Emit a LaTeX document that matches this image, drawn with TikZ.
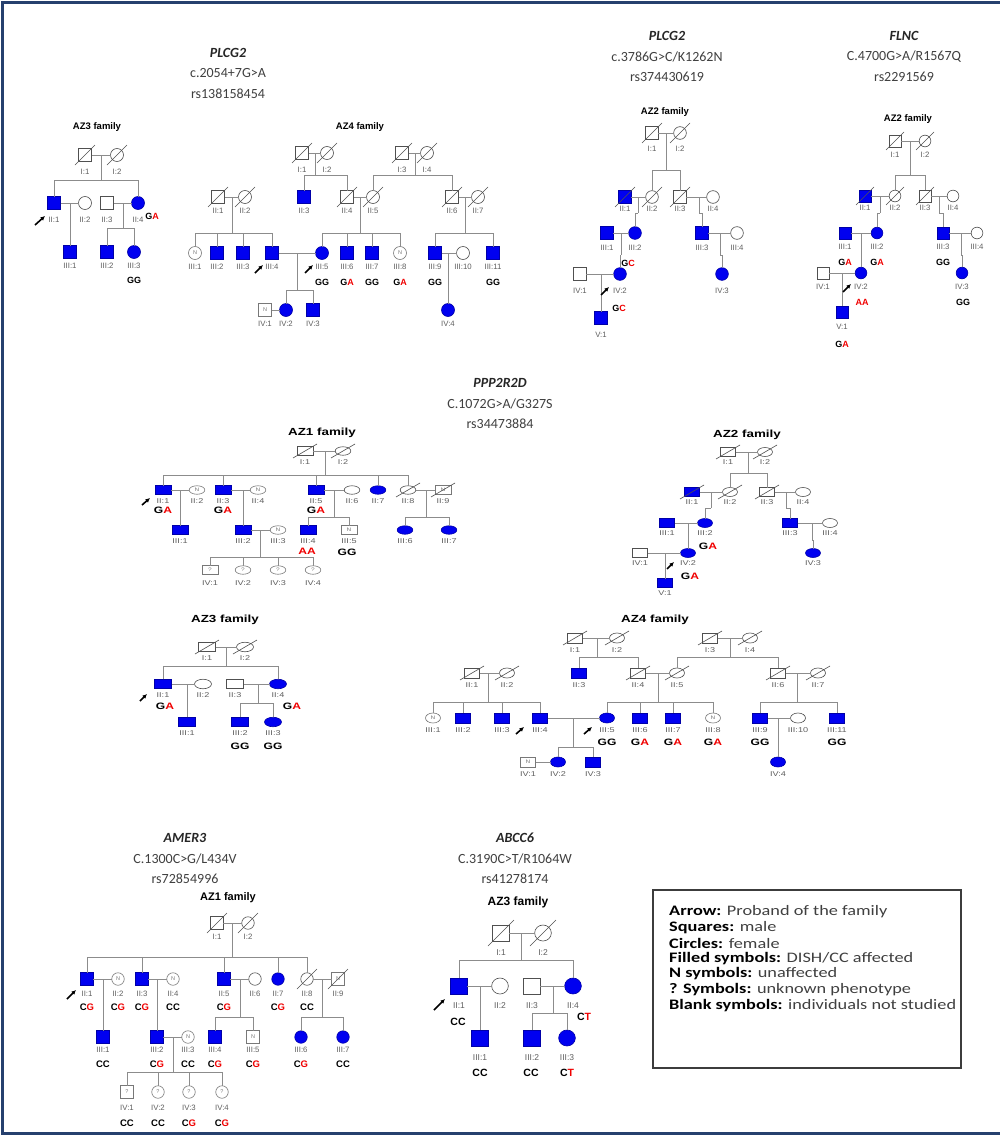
\documentclass[tikz,border=0pt]{standalone}
\usepackage{fontspec}
\setmainfont{Liberation Sans}
\newfontfamily\cfont{Carlito}
\newfontfamily\legf[FakeStretch=1.26]{Carlito}
\newfontfamily\arw[FakeStretch=1.3]{Liberation Sans}
\usetikzlibrary{shapes.geometric,arrows.meta}
\definecolor{pblue}{RGB}{0,0,240}
\definecolor{symc}{RGB}{80,80,80}
\definecolor{lnc}{RGB}{140,140,140}
\definecolor{labc}{RGB}{95,95,95}
\definecolor{nc}{RGB}{120,120,120}
\definecolor{gred}{RGB}{240,0,0}
\definecolor{tgray}{RGB}{64,64,64}
\definecolor{framec}{RGB}{38,64,110}
\definecolor{lgb}{RGB}{60,60,60}
\newcommand\R[1]{\textcolor{gred}{#1}}
\def\sw{13pt}\def\sh{13pt}\def\lo{15}\def\ddx{10}\def\ddy{10}
\def\labfont{\fontsize{7.8}{7.8}\selectfont}
\def\gtfont{\bfseries\fontsize{9}{9}\selectfont}
\def\famfont{\bfseries\fontsize{9.5}{9.5}\selectfont}
\def\nfont{\fontsize{5.5}{5.5}\selectfont}
\tikzset{
 ln/.style={draw=lnc, line width=0.7pt},
 base/.style={draw=symc, line width=0.6pt, inner sep=0pt, outer sep=0pt, minimum width=\sw, minimum height=\sh},
 male/.style={base, rectangle},
 fem/.style={base, ellipse},
 aff/.style={fill=pblue, draw=pblue!70!black},
 nlab/.style={font=\nfont, text=nc, inner sep=0pt},
 nsym/.style={draw=nc, label={[nlab]center:N}},
 qsym/.style={draw=nc, label={[nlab]center:?}},
 lab/.style={font=\labfont, text=labc, inner sep=0pt},
 gtf/.style={font=\gtfont, inner sep=0pt},
 famf/.style={font=\famfont, inner sep=0pt},
 slash/.style={draw=symc, line width=0.6pt},
 parr/.style={-{Latex[length=4.5pt,width=4.5pt]}, line width=1.6pt, black},
 tg/.style={font=\cfont\bfseries\itshape\fontsize{14}{14}\selectfont, text=black!85, inner sep=0pt},
 tt/.style={font=\cfont\fontsize{14}{14}\selectfont, text=tgray, inner sep=0pt},
 legt/.style={font=\legf\fontsize{14.5}{14.5}\selectfont, text=tgray, inner sep=0pt, anchor=west},
}
\newcommand\ind[6][\lo]{\node[#5] (#2) at (#3,#4) {}; \node[lab] (#2l) at (#3,#4+#1) {#6};}
\newcommand\indd[6][\lo]{\ind[#1]{#2}{#3}{#4}{#5}{#6}\draw[slash] ([shift={(-\ddx,\ddy)}]#2.center) -- ([shift={(\ddx,-\ddy)}]#2.center);}
\newcommand\cp[2]{\draw[ln] (#1.east) -- (#2.west);}
\newcommand\sibs[5]{\coordinate (#1a) at (#2,#3); \coordinate (#1b) at (#2,#4);
 \draw[ln] (#1a) -- (#1b);
 \foreach \kid in {#5}{\draw[ln] (\kid.north) |- (#1b);}}
\newcommand\gt[4]{\node[gtf] (#1) at (#2,#3) {#4};}
\newcommand\arr[5]{\coordinate (#1) at (#2,#3); \draw[parr] (#1) -- ++(#4,#5);}
\begin{document}
\begin{tikzpicture}[x=1pt,y=-1pt]
\useasboundingbox (0,0) rectangle (1000,1135);
\fill[white] (0,0) rectangle (1000,1135);
\draw[framec, line width=3pt] (1000,1133) -- (2,1133) -- (2,2) -- (1000,2);
% ---------- titles
\node[tg] (h1) at (228,53) {PLCG2};
\node[tt] (h2) at (228,73) {c.2054+7G>A};
\node[tt] (h3) at (228,94) {rs138158454};
\node[tg] (h4) at (667,36) {PLCG2};
\node[tt] (h5) at (667,57) {c.3786G>C/K1262N};
\node[tt] (h6) at (667,77) {rs374430619};
\node[tg] (h7) at (904,36) {FLNC};
\node[tt] (h8) at (904,57) {C.4700G>A/R1567Q};
\node[tt] (h9) at (904,77) {rs2291569};
\node[tg] (h10) at (500,383) {PPP2R2D};
\node[tt] (h11) at (500,404) {C.1072G>A/G327S};
\node[tt] (h12) at (500,424) {rs34473884};
\node[tg] (h13) at (185,838) {AMER3};
\node[tt] (h14) at (185,859) {C.1300C>G/L434V};
\node[tt] (h15) at (185,879) {rs72854996};
\node[tg] (h16) at (515,838) {ABCC6};
\node[tt] (h17) at (515,859) {C.3190C>T/R1064W};
\node[tt] (h18) at (515,879) {rs41278174};
% ---------- PLCG2 AZ3
\def\lo{16.5}
\node[famf] (pfam) at (97,127) {AZ3 family};
\indd{pI1}{85}{155}{male}{I:1}
\indd{pI2}{117}{155}{fem}{I:2}
\ind{pII1}{54}{203}{male,aff}{II:1}
\ind{pII2}{85}{203}{fem}{II:2}
\ind{pII3}{107}{203}{male}{II:3}
\ind{pII4}{138}{203}{fem,aff}{II:4}
\ind[13.5]{pIII1}{70}{252}{male,aff}{III:1}
\ind[13.5]{pIII2}{107}{252}{male,aff}{III:2}
\ind[13.5]{pIII3}{134}{252}{fem,aff}{III:3}
\cp{pI1}{pI2}\sibs{pf1}{101}{155}{180}{pII1,pII4}
\cp{pII1}{pII2}\sibs{pf2}{70}{203}{230}{pIII1}
\cp{pII3}{pII4}\sibs{pf3}{123}{203}{228}{pIII2,pIII3}
\gt{pg1}{152}{216}{G\R{A}}
\gt{pg2}{134}{280}{GG}
\arr{pa1}{35}{225}{10}{-9}
% ---------- PLCG2 AZ4
\def\lo{14}
\node[famf] (qfam) at (360,127) {AZ4 family};
\indd[16.5]{qI1}{302}{153}{male}{I:1}
\indd[16.5]{qI2}{327}{153}{fem}{I:2}
\indd[16.5]{qI3}{402}{153}{male}{I:3}
\indd[16.5]{qI4}{427}{153}{fem}{I:4}
\indd{qII1}{218}{197}{male}{II:1}
\indd{qII2}{245}{197}{fem}{II:2}
\ind{qII3}{304}{197}{male,aff}{II:3}
\indd{qII4}{347}{197}{male}{II:4}
\indd{qII5}{373}{197}{fem}{II:5}
\indd{qII6}{452}{197}{male}{II:6}
\indd{qII7}{478}{197}{fem}{II:7}
\ind{qIII1}{195}{253}{fem,nsym}{III:1}
\ind{qIII2}{217}{253}{male,aff}{III:2}
\ind{qIII3}{243}{253}{male,aff}{III:3}
\ind{qIII4}{272}{253}{male,aff}{III:4}
\ind{qIII5}{322}{253}{fem,aff}{III:5}
\ind{qIII6}{347}{253}{male,aff}{III:6}
\ind{qIII7}{372}{253}{male,aff}{III:7}
\ind{qIII8}{400}{253}{fem,nsym}{III:8}
\ind{qIII9}{435}{253}{male,aff}{III:9}
\ind{qIII10}{463}{253}{fem}{III:10}
\ind{qIII11}{493}{253}{male,aff}{III:11}
\ind{qIV1}{265}{310}{male,nsym}{IV:1}
\ind{qIV2}{286}{310}{fem,aff}{IV:2}
\ind{qIV3}{313}{310}{male,aff}{IV:3}
\ind{qIV4}{448}{310}{fem,aff}{IV:4}
\cp{qI1}{qI2}\sibs{qf1}{315}{153}{175}{qII3,qII4}
\cp{qI3}{qI4}\sibs{qf2}{415}{153}{175}{qII5,qII6}
\cp{qII1}{qII2}\sibs{qf3}{232}{197}{233}{qIII1,qIII2,qIII3,qIII4}
\cp{qII4}{qII5}\sibs{qf4}{360}{197}{233}{qIII5,qIII6,qIII7,qIII8}
\cp{qII6}{qII7}\sibs{qf5}{465}{197}{233}{qIII9,qIII11}
\cp{qIII4}{qIII5}\sibs{qf6}{297}{253}{290}{qIV2,qIV3}
\cp{qIII9}{qIII10}\sibs{qf7}{448}{253}{285}{qIV4}
\cp{qIV1}{qIV2}
\gt{qg1}{322}{282}{GG}
\gt{qg2}{347}{282}{G\R{A}}
\gt{qg3}{372}{282}{GG}
\gt{qg4}{400}{282}{G\R{A}}
\gt{qg5}{435}{282}{GG}
\gt{qg6}{493}{282}{GG}
\arr{qa1}{255}{273}{8}{-8}
\arr{qa2}{305}{273}{8}{-8}
% ---------- PLCG2 AZ2
\def\sw{12.7pt}\def\sh{12.7pt}\def\lo{15}
\node[famf] (rfam) at (665,112) {AZ2 family};
\indd[16]{rI1}{652}{133}{male}{I:1}
\indd[16]{rI2}{680}{133}{fem}{I:2}
\indd[12]{rII1}{625}{197}{male,aff}{II:1}
\indd[12]{rII2}{652}{197}{fem}{II:2}
\indd[12]{rII3}{680}{197}{male}{II:3}
\ind[12]{rII4}{713}{197}{fem}{II:4}
\ind{rIII1}{607}{233}{male,aff}{III:1}
\ind{rIII2}{635}{233}{fem,aff}{III:2}
\ind{rIII3}{702}{233}{male,aff}{III:3}
\ind{rIII4}{737}{233}{fem}{III:4}
\ind[17]{rIV1}{580}{274}{male}{IV:1}
\ind[17]{rIV2}{620}{274}{fem,aff}{IV:2}
\ind[17]{rIV3}{722}{274}{fem,aff}{IV:3}
\ind[17]{rV1}{601}{318}{male,aff}{V:1}
\cp{rI1}{rI2}\sibs{rf1}{666}{133}{170}{rII2,rII3}
\cp{rII1}{rII2}\sibs{rf2}{638}{197}{213}{rIII2}
\cp{rII3}{rII4}\sibs{rf3}{699}{197}{213}{rIII3}
\cp{rIII1}{rIII2}\sibs{rf4}{621}{233}{255}{rIV2}
\cp{rIII3}{rIII4}\sibs{rf5}{720}{233}{255}{rIV3}
\cp{rIV1}{rIV2}\sibs{rf6}{601}{274}{300}{rV1}
\gt{rg1}{628}{263}{G\R{C}}
\gt{rg2}{619}{308}{G\R{C}}
\arr{ra1}{601}{295}{8}{-8}
% ---------- FLNC AZ2
\def\sw{11.7pt}\def\sh{11.7pt}\def\lo{13.5}\def\ddx{9}\def\ddy{9}
\node[famf] (ffam) at (908,119) {AZ2 family};
\indd{fI1}{895}{141}{male}{I:1}
\indd{fI2}{925}{141}{fem}{I:2}
\indd[12]{fII1}{865}{196}{male,aff}{II:1}
\indd[12]{fII2}{895}{196}{fem}{II:2}
\indd[12]{fII3}{925}{196}{male}{II:3}
\ind[12]{fII4}{953}{196}{fem}{II:4}
\ind{fIII1}{845}{233}{male,aff}{III:1}
\ind{fIII2}{877}{233}{fem,aff}{III:2}
\ind{fIII3}{943}{233}{male,aff}{III:3}
\ind{fIII4}{977}{233}{fem}{III:4}
\ind{fIV1}{823}{273}{male}{IV:1}
\ind{fIV2}{861}{273}{fem,aff}{IV:2}
\ind{fIV3}{962}{273}{fem,aff}{IV:3}
\ind[15]{fV1}{842}{312}{male,aff}{V:1}
\cp{fI1}{fI2}\sibs{ff1}{910}{141}{175}{fII2,fII3}
\cp{fII1}{fII2}\sibs{ff2}{880}{196}{213}{fIII2}
\cp{fII3}{fII4}\sibs{ff3}{939}{196}{213}{fIII3}
\cp{fIII1}{fIII2}\sibs{ff4}{861}{233}{255}{fIV2}
\cp{fIII3}{fIII4}\sibs{ff5}{961}{233}{255}{fIV3}
\cp{fIV1}{fIV2}\sibs{ff6}{842}{273}{295}{fV1}
\gt{fg1}{845}{262}{G\R{A}}
\gt{fg2}{877}{262}{G\R{A}}
\gt{fg3}{943}{262}{GG}
\gt{fg4}{862}{302}{\R{AA}}
\gt{fg5}{963}{302}{GG}
\gt{fg6}{842}{344}{G\R{A}}
\arr{fa1}{843}{292}{8}{-8}
% ---------- PPP2R2D (stretched)
\def\labfont{\arw\fontsize{7}{7}\selectfont}
\def\gtfont{\arw\bfseries\fontsize{9.3}{9.3}\selectfont}
\def\famfont{\arw\bfseries\fontsize{10.3}{10.3}\selectfont}
\def\nfont{\arw\fontsize{5}{5}\selectfont}
\def\ddx{12}\def\ddy{7}
% AZ1
\def\sw{15.7pt}\def\sh{8.5pt}\def\lo{11}
\node[famf] (afam) at (322,433) {AZ1 family};
\indd{aI1}{305}{451}{male}{I:1}
\indd{aI2}{343}{451}{fem}{I:2}
\ind{aII1}{163}{490}{male,aff}{II:1}
\ind{aII2}{197}{490}{fem,nsym}{II:2}
\ind{aII3}{223}{490}{male,aff}{II:3}
\ind{aII4}{258}{490}{fem,nsym}{II:4}
\ind{aII5}{316}{490}{male,aff}{II:5}
\ind{aII6}{352}{490}{fem}{II:6}
\ind{aII7}{378}{490}{fem,aff}{II:7}
\indd{aII8}{408}{490}{fem}{II:8}
\indd{aII9}{443}{490}{male,nsym}{II:9}
\ind{aIII1}{180}{530}{male,aff}{III:1}
\ind{aIII2}{243}{530}{male,aff}{III:2}
\ind{aIII3}{278}{530}{fem,nsym}{III:3}
\ind{aIII4}{308}{530}{male,aff}{III:4}
\ind{aIII5}{349}{530}{male,nsym}{III:5}
\ind{aIII6}{405}{530}{fem,aff}{III:6}
\ind{aIII7}{449}{530}{fem,aff}{III:7}
\ind[13]{aIV1}{210}{570}{male,qsym}{IV:1}
\ind[13]{aIV2}{243}{570}{fem,qsym}{IV:2}
\ind[13]{aIV3}{278}{570}{fem,qsym}{IV:3}
\ind[13]{aIV4}{313}{570}{fem,qsym}{IV:4}
\cp{aI1}{aI2}\sibs{af1}{325}{451}{475}{aII1,aII3,aII5,aII7,aII8}
\cp{aII1}{aII2}\sibs{af2}{180}{490}{515}{aIII1}
\cp{aII3}{aII4}\sibs{af3}{243}{490}{515}{aIII2}
\cp{aII5}{aII6}\sibs{af4}{334}{490}{517}{aIII4,aIII5}
\cp{aII8}{aII9}\sibs{af5}{426}{490}{517}{aIII6,aIII7}
\cp{aIII2}{aIII3}\sibs{af6}{260}{530}{557}{aIV1,aIV2,aIV3,aIV4}
\gt{ag1}{163}{510}{G\R{A}}
\gt{ag2}{223}{510}{G\R{A}}
\gt{ag3}{316}{510}{G\R{A}}
\gt{ag4}{307}{551}{\R{AA}}
\gt{ag5}{347}{552}{GG}
\arr{aa1}{142}{505}{8}{-7}
% AZ2
\def\sw{15pt}\def\sh{9pt}\def\lo{10.5}
\node[famf] (bfam) at (747,435) {AZ2 family};
\indd{bI1}{728}{452}{male}{I:1}
\indd{bI2}{765}{452}{fem}{I:2}
\indd{bII1}{692}{492}{male,aff}{II:1}
\indd{bII2}{730}{492}{fem}{II:2}
\indd{bII3}{767}{492}{male}{II:3}
\ind{bII4}{803}{492}{fem}{II:4}
\ind{bIII1}{667}{523}{male,aff}{III:1}
\ind{bIII2}{705}{523}{fem,aff}{III:2}
\ind{bIII3}{790}{523}{male,aff}{III:3}
\ind{bIII4}{830}{523}{fem}{III:4}
\ind{bIV1}{640}{553}{male}{IV:1}
\ind{bIV2}{688}{553}{fem,aff}{IV:2}
\ind{bIV3}{813}{553}{fem,aff}{IV:3}
\ind{bV1}{665}{583}{male,aff}{V:1}
\cp{bI1}{bI2}\sibs{bf1}{748}{452}{473}{bII2,bII3}
\cp{bII1}{bII2}\sibs{bf2}{711}{492}{508}{bIII2}
\cp{bII3}{bII4}\sibs{bf3}{786}{492}{508}{bIII3}
\cp{bIII1}{bIII2}\sibs{bf4}{688}{523}{540}{bIV2}
\cp{bIII3}{bIII4}\sibs{bf5}{812}{523}{540}{bIV3}
\cp{bIV1}{bIV2}\sibs{bf6}{665}{553}{570}{bV1}
\gt{bg1}{708}{546}{G\R{A}}
\gt{bg2}{690}{576}{G\R{A}}
\arr{ba1}{667}{569}{7}{-7}
% AZ3
\def\sw{17pt}\def\sh{9.5pt}\def\lo{11}
\node[famf] (cfam) at (225,620) {AZ3 family};
\indd{cI1}{207}{647}{male}{I:1}
\indd{cI2}{245}{647}{fem}{I:2}
\ind{cII1}{163}{684}{male,aff}{II:1}
\ind{cII2}{203}{684}{fem}{II:2}
\ind{cII3}{235}{684}{male}{II:3}
\ind{cII4}{278}{684}{fem,aff}{II:4}
\ind{cIII1}{187}{722}{male,aff}{III:1}
\ind{cIII2}{240}{722}{male,aff}{III:2}
\ind{cIII3}{273}{722}{fem,aff}{III:3}
\cp{cI1}{cI2}\sibs{cf1}{226}{647}{666}{cII1,cII4}
\cp{cII1}{cII2}\sibs{cf2}{187}{684}{705}{cIII1}
\cp{cII3}{cII4}\sibs{cf3}{258}{684}{703}{cIII2,cIII3}
\gt{cg1}{165}{706}{G\R{A}}
\gt{cg2}{292}{706}{G\R{A}}
\gt{cg3}{240}{746}{GG}
\gt{cg4}{273}{746}{GG}
\arr{ca1}{140}{701}{7}{-7}
% AZ4
\def\sw{15pt}\def\sh{10pt}\def\lo{12.5}
\node[famf] (dfam) at (655,620) {AZ4 family};
\indd{dI1}{575}{638}{male}{I:1}
\indd{dI2}{617}{638}{fem}{I:2}
\indd{dI3}{710}{638}{male}{I:3}
\indd{dI4}{750}{638}{fem}{I:4}
\indd{dII1}{472}{673}{male}{II:1}
\indd{dII2}{507}{673}{fem}{II:2}
\ind{dII3}{579}{673}{male,aff}{II:3}
\indd{dII4}{638}{673}{male}{II:4}
\indd{dII5}{677}{673}{fem}{II:5}
\indd{dII6}{778}{673}{male}{II:6}
\indd{dII7}{818}{673}{fem}{II:7}
\ind{dIII1}{433}{718}{fem,nsym}{III:1}
\ind{dIII2}{463}{718}{male,aff}{III:2}
\ind{dIII3}{502}{718}{male,aff}{III:3}
\ind{dIII4}{540}{718}{male,aff}{III:4}
\ind{dIII5}{607}{718}{fem,aff}{III:5}
\ind{dIII6}{640}{718}{male,aff}{III:6}
\ind{dIII7}{673}{718}{male,aff}{III:7}
\ind{dIII8}{713}{718}{fem,nsym}{III:8}
\ind{dIII9}{760}{718}{male,aff}{III:9}
\ind{dIII10}{798}{718}{fem}{III:10}
\ind{dIII11}{837}{718}{male,aff}{III:11}
\ind{dIV1}{528}{762}{male,nsym}{IV:1}
\ind{dIV2}{558}{762}{fem,aff}{IV:2}
\ind{dIV3}{593}{762}{male,aff}{IV:3}
\ind{dIV4}{778}{762}{fem,aff}{IV:4}
\cp{dI1}{dI2}\sibs{df1}{597}{638}{657}{dII3,dII4}
\cp{dI3}{dI4}\sibs{df2}{730}{638}{657}{dII5,dII6}
\cp{dII1}{dII2}\sibs{df3}{488}{673}{702}{dIII1,dIII2,dIII3,dIII4}
\cp{dII4}{dII5}\sibs{df4}{658}{673}{702}{dIII5,dIII6,dIII7,dIII8}
\cp{dII6}{dII7}\sibs{df5}{797}{673}{702}{dIII9,dIII11}
\cp{dIII4}{dIII5}\sibs{df6}{573}{718}{747}{dIV2,dIV3}
\cp{dIII9}{dIII10}\sibs{df7}{778}{718}{740}{dIV4}
\cp{dIV1}{dIV2}
\gt{dg1}{607}{742}{GG}
\gt{dg2}{640}{742}{G\R{A}}
\gt{dg3}{673}{742}{G\R{A}}
\gt{dg4}{713}{742}{G\R{A}}
\gt{dg5}{760}{742}{GG}
\gt{dg6}{837}{742}{GG}
\arr{da1}{516}{734}{8}{-7}
\arr{da2}{584}{734}{8}{-7}
% ---------- AMER3 AZ1
\def\labfont{\fontsize{7.8}{7.8}\selectfont}
\def\gtfont{\bfseries\fontsize{9.5}{9.5}\selectfont}
\def\famfont{\bfseries\fontsize{11}{11}\selectfont}
\def\nfont{\fontsize{5.5}{5.5}\selectfont}
\def\sw{12.5pt}\def\sh{12.5pt}\def\lo{15}\def\ddx{10}\def\ddy{10}
\node[famf] (mfam) at (228,898) {AZ1 family};
\indd[13.5]{mI1}{217}{923}{male}{I:1}
\indd[13.5]{mI2}{248}{923}{fem}{I:2}
\ind{mII1}{87}{979}{male,aff}{II:1}
\ind{mII2}{118}{979}{fem,nsym}{II:2}
\ind{mII3}{142}{979}{male,aff}{II:3}
\ind{mII4}{173}{979}{fem,nsym}{II:4}
\ind{mII5}{224}{979}{male,aff}{II:5}
\ind{mII6}{255}{979}{fem}{II:6}
\ind{mII7}{278}{979}{fem,aff}{II:7}
\indd{mII8}{307}{979}{fem}{II:8}
\indd{mII9}{338}{979}{male,nsym}{II:9}
\ind[13]{mIII1}{103}{1037}{male,aff}{III:1}
\ind[13]{mIII2}{157}{1037}{male,aff}{III:2}
\ind[13]{mIII3}{188}{1037}{fem,nsym}{III:3}
\ind[13]{mIII4}{215}{1037}{male,aff}{III:4}
\ind[13]{mIII5}{253}{1037}{male,nsym}{III:5}
\ind[13]{mIII6}{301}{1037}{fem,aff}{III:6}
\ind[13]{mIII7}{343}{1037}{fem,aff}{III:7}
\ind[16]{mIV1}{127}{1092}{male,qsym}{IV:1}
\ind[16]{mIV2}{158}{1092}{fem,qsym}{IV:2}
\ind[16]{mIV3}{189}{1092}{fem,qsym}{IV:3}
\ind[16]{mIV4}{222}{1092}{fem,qsym}{IV:4}
\cp{mI1}{mI2}\sibs{mf1}{232}{923}{957}{mII1,mII3,mII5,mII7,mII8}
\cp{mII1}{mII2}\sibs{mf2}{103}{979}{1010}{mIII1}
\cp{mII3}{mII4}\sibs{mf3}{157}{979}{1010}{mIII2}
\cp{mII5}{mII6}\sibs{mf4}{240}{979}{1017}{mIII4,mIII5}
\cp{mII8}{mII9}\sibs{mf5}{322}{979}{1017}{mIII6,mIII7}
\cp{mIII2}{mIII3}\sibs{mf6}{173}{1037}{1072}{mIV1,mIV2,mIV3,mIV4}
\gt{mg1}{87}{1007}{C\R{G}}
\gt{mg2}{118}{1007}{C\R{G}}
\gt{mg3}{142}{1007}{C\R{G}}
\gt{mg4}{173}{1007}{CC}
\gt{mg5}{224}{1007}{C\R{G}}
\gt{mg6}{278}{1007}{C\R{G}}
\gt{mg7}{307}{1007}{CC}
\gt{mg8}{103}{1064}{CC}
\gt{mg9}{157}{1064}{C\R{G}}
\gt{mg10}{188}{1064}{CC}
\gt{mg11}{215}{1064}{C\R{G}}
\gt{mg12}{253}{1064}{C\R{G}}
\gt{mg13}{301}{1064}{C\R{G}}
\gt{mg14}{343}{1064}{CC}
\gt{mg15}{127}{1123}{CC}
\gt{mg16}{158}{1123}{CC}
\gt{mg17}{189}{1123}{C\R{G}}
\gt{mg18}{222}{1123}{C\R{G}}
\arr{ma1}{67}{999}{9}{-9}
% ---------- ABCC6 AZ3
\def\labfont{\fontsize{8.5}{8.5}\selectfont}
\def\gtfont{\bfseries\fontsize{10.5}{10.5}\selectfont}
\def\famfont{\bfseries\fontsize{12}{12}\selectfont}
\def\sw{16.7pt}\def\sh{16pt}\def\lo{19.5}\def\ddx{13}\def\ddy{13}
\node[famf] (efam) at (518,902) {AZ3 family};
\indd{eI1}{501}{933}{male}{I:1}
\indd{eI2}{543}{933}{fem}{I:2}
\ind{eII1}{459}{986}{male,aff}{II:1}
\ind{eII2}{500}{986}{fem}{II:2}
\ind{eII3}{532}{986}{male}{II:3}
\ind{eII4}{573}{986}{fem,aff}{II:4}
\ind{eIII1}{480}{1038}{male,aff}{III:1}
\ind{eIII2}{532}{1038}{male,aff}{III:2}
\ind{eIII3}{567}{1038}{fem,aff}{III:3}
\cp{eI1}{eI2}\sibs{ef1}{521}{933}{960}{eII1,eII4}
\cp{eII1}{eII2}\sibs{ef2}{480}{986}{1015}{eIII1}
\cp{eII3}{eII4}\sibs{ef3}{553}{986}{1013}{eIII2,eIII3}
\gt{eg1}{458}{1022}{CC}
\gt{eg2}{584}{1017}{C\R{T}}
\gt{eg3}{480}{1073}{CC}
\gt{eg4}{531}{1073}{CC}
\gt{eg5}{567}{1073}{C\R{T}}
\arr{ea1}{434}{1010}{11}{-11}
% ---------- legend
\node[draw=lgb, line width=1.3pt, minimum width=308pt, minimum height=178pt, inner sep=0pt] (legbox) at (807,979) {};
\node[legt] (l1) at (669,912) {\textcolor{black}{\bfseries Arrow:} Proband of the family};
\node[legt] (l2) at (669,927.5) {\textcolor{black}{\bfseries Squares:} male};
\node[legt] (l3) at (669,943) {\textcolor{black}{\bfseries Circles:} female};
\node[legt] (l4) at (669,958.5) {\textcolor{black}{\bfseries Filled symbols:} DISH/CC affected};
\node[legt] (l5) at (669,974) {\textcolor{black}{\bfseries N symbols:} unaffected};
\node[legt] (l6) at (669,990) {\textcolor{black}{\bfseries ? Symbols:} unknown phenotype};
\node[legt] (l7) at (669,1005.5) {\textcolor{black}{\bfseries Blank symbols:} individuals not studied};
\end{tikzpicture}
\end{document}
